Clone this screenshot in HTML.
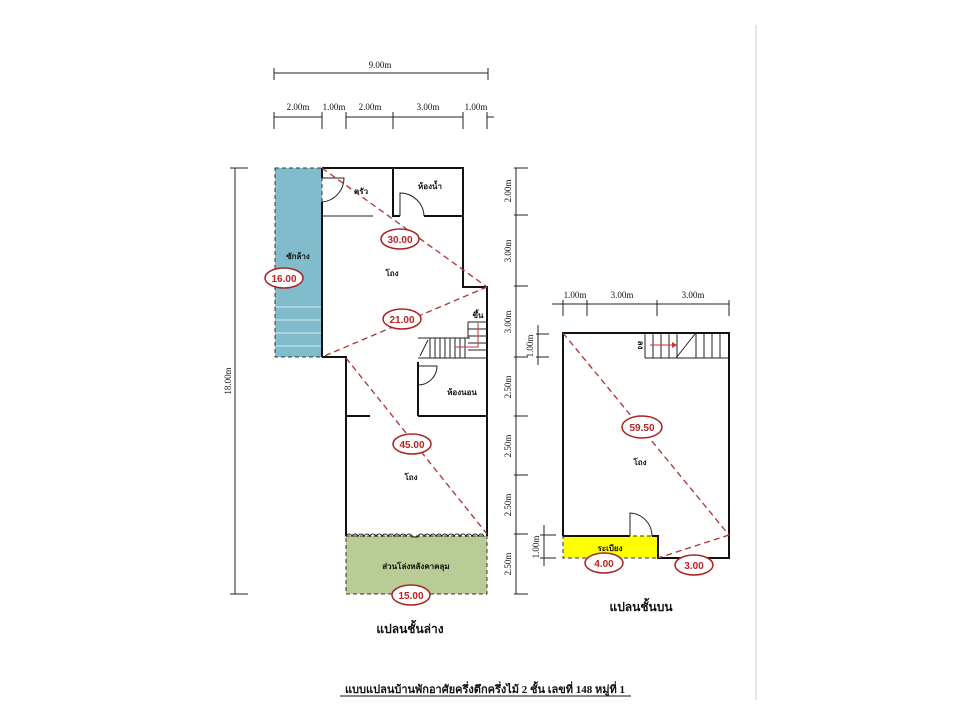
<!DOCTYPE html>
<html><head><meta charset="utf-8"><style>
html,body{margin:0;padding:0;background:#fff}
svg{display:block}
text{font-family:"Liberation Serif","Noto Serif CJK SC",serif;fill:#111}
.t{font-family:"Liberation Sans","Noto Sans CJK SC",sans-serif;font-size:8px;font-weight:bold}
.d{font-size:9px}
.o{font-family:"Liberation Sans",sans-serif;font-size:10px;font-weight:bold;fill:#b22}
</style></head><body>
<svg width="960" height="720" viewBox="0 0 960 720" xmlns="http://www.w3.org/2000/svg">
<line x1="756" y1="25" x2="756" y2="700" stroke="#ccc" stroke-width="1"/>
<g stroke="#222" stroke-width="1" fill="none">
<line x1="274" y1="73" x2="488" y2="73"/>
<line x1="274" y1="68" x2="274" y2="80"/><line x1="488" y1="68" x2="488" y2="80"/>
<line x1="274" y1="117" x2="322" y2="117"/><line x1="346" y1="117" x2="463" y2="117"/><line x1="487" y1="117" x2="494" y2="117"/>
<line x1="274" y1="112" x2="274" y2="129"/><line x1="322" y1="112" x2="322" y2="129"/><line x1="346" y1="112" x2="346" y2="129"/><line x1="393" y1="112" x2="393" y2="129"/><line x1="463" y1="112" x2="463" y2="129"/><line x1="487" y1="112" x2="487" y2="129"/>
<line x1="235" y1="168" x2="235" y2="594"/>
<line x1="230" y1="168" x2="248" y2="168"/><line x1="230" y1="594" x2="248" y2="594"/>
<line x1="516" y1="168" x2="516" y2="594"/>
<g><line x1="514" y1="168" x2="528" y2="168"/><line x1="514" y1="215" x2="528" y2="215"/><line x1="514" y1="286" x2="528" y2="286"/><line x1="514" y1="357" x2="528" y2="357"/><line x1="514" y1="416" x2="528" y2="416"/><line x1="514" y1="475" x2="528" y2="475"/><line x1="514" y1="534" x2="528" y2="534"/><line x1="514" y1="594" x2="528" y2="594"/></g>
<line x1="538" y1="325" x2="538" y2="365"/><line x1="536" y1="334" x2="549" y2="334"/><line x1="536" y1="357" x2="549" y2="357"/>
<line x1="544" y1="525" x2="544" y2="566"/><line x1="540" y1="535" x2="556" y2="535"/><line x1="540" y1="558" x2="556" y2="558"/>
<line x1="552" y1="304" x2="729" y2="304"/>
<line x1="563" y1="300" x2="563" y2="316"/><line x1="587" y1="300" x2="587" y2="316"/><line x1="657" y1="300" x2="657" y2="316"/><line x1="729" y1="300" x2="729" y2="316"/>
</g>
<rect x="275" y="168" width="47" height="189" fill="#80bccb" stroke="#333" stroke-dasharray="4,3"/>
<g stroke="#d8ecf0" stroke-width="1"><line x1="276" y1="307" x2="321" y2="307"/><line x1="276" y1="320" x2="321" y2="320"/><line x1="276" y1="333" x2="321" y2="333"/><line x1="276" y1="346" x2="321" y2="346"/></g>
<rect x="346" y="536" width="141" height="58" fill="#b9cc95" stroke="#333" stroke-dasharray="4,3"/>
<g stroke="#111" stroke-width="2" fill="none">
<polyline points="322,168 463,168 463,287 487,287 487,536"/>
<polyline points="393,168 393,216 400,216"/><line x1="424" y1="216" x2="463" y2="216"/>
<line x1="322" y1="168" x2="322" y2="178"/><line x1="322" y1="202" x2="322" y2="357"/>
<polyline points="322,357 346,357 346,536"/>
<line x1="346" y1="416" x2="370" y2="416"/><line x1="418" y1="416" x2="487" y2="416"/>
<line x1="418" y1="362" x2="418" y2="416"/>
</g>
<g stroke="#222" stroke-width="1" fill="none">
<line x1="322" y1="216" x2="373" y2="216"/>
<path d="M322,178 H344 A24,24 0 0 1 322,202"/>
<path d="M400,216 V193 A24,24 0 0 1 424,216"/>
<path d="M418,366 H437 A19,19 0 0 1 418,385"/>
<line x1="418" y1="338" x2="470" y2="338"/><line x1="418" y1="358" x2="487" y2="358"/>
<line x1="468" y1="322" x2="487" y2="322"/><line x1="468" y1="322" x2="468" y2="338"/>
<line x1="468" y1="329" x2="487" y2="329"/><line x1="468" y1="336" x2="487" y2="336"/><line x1="468" y1="343" x2="487" y2="343"/><line x1="468" y1="350" x2="487" y2="350"/>
<line x1="430" y1="338" x2="430" y2="358"/><line x1="435" y1="338" x2="435" y2="358"/><line x1="440" y1="338" x2="440" y2="358"/><line x1="445" y1="338" x2="445" y2="358"/><line x1="450" y1="338" x2="450" y2="358"/><line x1="455" y1="338" x2="455" y2="358"/><line x1="460" y1="338" x2="460" y2="358"/><line x1="465" y1="338" x2="465" y2="358"/>
<line x1="420" y1="356" x2="428" y2="340"/>
<path d="M346,537 a3,3 0 0 1 6,0 a3,3 0 0 1 6,0 a3,3 0 0 1 6,0 a3,3 0 0 1 6,0 a3,3 0 0 1 6,0 a3,3 0 0 1 6,0 a3,3 0 0 1 6,0 a3,3 0 0 1 6,0 a3,3 0 0 1 6,0 a3,3 0 0 1 6,0 a3,3 0 0 1 6,0 L418,537 a3,3 0 0 1 6,0 a3,3 0 0 1 6,0 a3,3 0 0 1 6,0 a3,3 0 0 1 6,0 a3,3 0 0 1 6,0 a3,3 0 0 1 6,0 a3,3 0 0 1 6,0 a3,3 0 0 1 6,0 a3,3 0 0 1 6,0 a3,3 0 0 1 6,0 a3,3 0 0 1 6,0"/>
</g>
<polyline points="478,323 478,347 455,347" stroke="#c33" fill="none" stroke-width="1"/>
<rect x="563" y="536" width="95" height="22" fill="#ffff00" stroke="#333" stroke-dasharray="4,3"/>
<g stroke="#111" stroke-width="2" fill="none">
<polyline points="563,536 563,333 729,333 729,558 658,558 658,536 652,536"/>
<line x1="563" y1="536" x2="630" y2="536"/>
</g>
<g stroke="#222" stroke-width="1" fill="none">
<path d="M630,536 V513 A23,23 0 0 1 652,536"/>
<line x1="645" y1="358" x2="729" y2="358"/><line x1="645" y1="333" x2="645" y2="358"/>
<line x1="653" y1="333" x2="653" y2="358"/><line x1="661" y1="333" x2="661" y2="358"/><line x1="669" y1="333" x2="669" y2="358"/><line x1="677" y1="333" x2="677" y2="358"/><line x1="696" y1="333" x2="696" y2="358"/><line x1="704" y1="333" x2="704" y2="358"/><line x1="712" y1="333" x2="712" y2="358"/><line x1="720" y1="333" x2="720" y2="358"/>
<line x1="676" y1="358" x2="695" y2="334"/>
</g>
<line x1="650" y1="345" x2="672" y2="345" stroke="#c33"/><polygon points="672,342 677,345 672,348" fill="#c33"/>
<g stroke="#a33" stroke-width="1.3" stroke-dasharray="6,4" fill="none">
<line x1="322" y1="168" x2="487" y2="287"/>
<line x1="487" y1="287" x2="322" y2="357"/>
<line x1="346" y1="358" x2="487" y2="534"/>
<line x1="563" y1="333" x2="729" y2="535"/>
<line x1="729" y1="535" x2="658" y2="558"/>
</g>
<g fill="#fff" stroke="#a22" stroke-width="1.5">
<ellipse cx="284" cy="278" rx="19" ry="10"/>
<ellipse cx="400" cy="239" rx="19" ry="10"/>
<ellipse cx="402" cy="319" rx="19" ry="10"/>
<ellipse cx="412" cy="444" rx="19" ry="10"/>
<ellipse cx="411" cy="595" rx="19" ry="10"/>
<ellipse cx="642" cy="427" rx="20" ry="11"/>
<ellipse cx="604" cy="563" rx="19" ry="10"/>
<ellipse cx="694" cy="565" rx="19" ry="10"/>
</g>
<g class="o" text-anchor="middle">
<text class="o" x="284" y="282">16.00</text>
<text class="o" x="400" y="243">30.00</text>
<text class="o" x="402" y="323">21.00</text>
<text class="o" x="412" y="448">45.00</text>
<text class="o" x="411" y="599">15.00</text>
<text class="o" x="642" y="431">59.50</text>
<text class="o" x="604" y="567">4.00</text>
<text class="o" x="694" y="569">3.00</text>
</g>
<g class="d" text-anchor="middle">
<text class="d" x="380" y="68">9.00m</text>
<text class="d" x="298" y="110">2.00m</text>
<text class="d" x="334" y="110">1.00m</text>
<text class="d" x="370" y="110">2.00m</text>
<text class="d" x="428" y="110">3.00m</text>
<text class="d" x="476" y="110">1.00m</text>
<text class="d" x="575" y="298">1.00m</text>
<text class="d" x="622" y="298">3.00m</text>
<text class="d" x="693" y="298">3.00m</text>
<text class="d" transform="translate(231,381) rotate(-90)">18.00m</text>
<text class="d" transform="translate(511,191) rotate(-90)">2.00m</text>
<text class="d" transform="translate(511,251) rotate(-90)">3.00m</text>
<text class="d" transform="translate(511,322) rotate(-90)">3.00m</text>
<text class="d" transform="translate(511,387) rotate(-90)">2.50m</text>
<text class="d" transform="translate(511,446) rotate(-90)">2.50m</text>
<text class="d" transform="translate(511,505) rotate(-90)">2.50m</text>
<text class="d" transform="translate(511,564) rotate(-90)">2.50m</text>
<text class="d" transform="translate(533,346) rotate(-90)">1.00m</text>
<text class="d" transform="translate(539,547) rotate(-90)">1.00m</text>
</g>
<g text-anchor="middle">
<text class="t" x="298" y="259">ซักล้าง</text>
<text class="t" x="361" y="194">ครัว</text>
<text class="t" x="430" y="189">ห้องน้ำ</text>
<text class="t" x="392" y="276">โถง</text>
<text class="t" x="478" y="318">ขึ้น</text>
<text class="t" x="462" y="395">ห้องนอน</text>
<text class="t" x="411" y="480">โถง</text>
<text class="t" x="416" y="569">ส่วนโล่งหลังคาคลุม</text>
<text class="t" x="640" y="465">โถง</text>
<text class="t" x="610" y="551">ระเบียง</text>
<text class="t" transform="translate(638,345) rotate(90)">ลง</text>
<text x="410" y="633" style="font-family:'Liberation Sans','Noto Sans CJK SC',sans-serif;font-size:12px;font-weight:bold">แปลนชั้นล่าง</text>
<text x="641" y="611" style="font-family:'Liberation Sans','Noto Sans CJK SC',sans-serif;font-size:12px;font-weight:bold">แปลนชั้นบน</text>
<text x="485" y="693" style="font-family:'Liberation Serif','Noto Serif CJK SC',serif;font-size:11px;font-weight:bold">แบบแปลนบ้านพักอาศัยครึ่งตึกครึ่งไม้  2  ชั้น  เลขที่ 148 หมู่ที่ 1</text>
</g>
<line x1="340" y1="696" x2="631" y2="696" stroke="#111"/>
</svg>
</body></html>
